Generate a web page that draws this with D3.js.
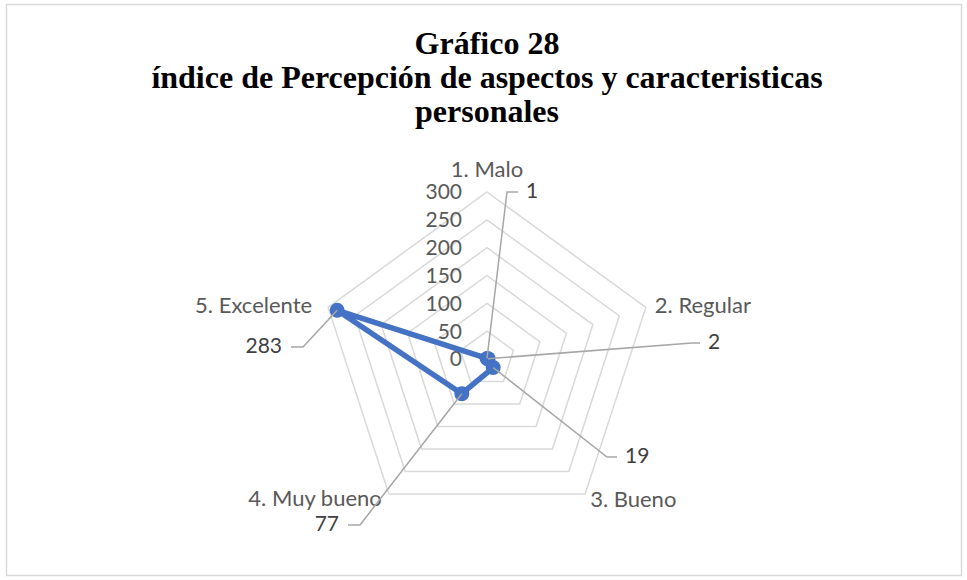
<!DOCTYPE html>
<html><head><meta charset="utf-8">
<script src="https://cdn.jsdelivr.net/npm/d3@7"></script>
<style>body{margin:0;background:#fff}svg{display:block}</style>
</head><body>
<script>
// ---- data ----
const categories = ["1. Malo", "2. Regular", "3. Bueno", "4. Muy bueno", "5. Excelente"];
const values = [1, 2, 19, 77, 283];
const tickValues = [0, 50, 100, 150, 200, 250, 300];
const titleLines = ["Gráfico 28", "índice de Percepción de aspectos y caracteristicas", "personales"];

// ---- layout ----
const W = 967, H = 580;
const cx = 487, cy = 359, R = 167;
const svg = d3.select("body").append("svg").attr("width", W).attr("height", H);
svg.append("rect").attr("x", 6.5).attr("y", 4.5).attr("width", 955).attr("height", 571)
  .attr("fill", "#fff").attr("stroke", "#d9d9d9").attr("stroke-width", 1.5);

const r = d3.scaleLinear().domain([0, 300]).range([0, R]);
const ang = d3.scaleLinear().domain([0, categories.length]).range([0, 2 * Math.PI]);
const pt = (i, v) => [cx + r(v) * Math.sin(ang(i)), cy - r(v) * Math.cos(ang(i))];

// title
svg.append("g").selectAll("text").data(titleLines).join("text")
  .attr("x", cx).attr("y", (d, i) => 54 + i * 34)
  .attr("text-anchor", "middle")
  .attr("font-family", "'Liberation Serif','Times New Roman',serif")
  .attr("font-weight", "bold").attr("font-size", 32).attr("fill", "#000")
  .text(d => d);

// grid
const grid = svg.append("g");
tickValues.filter(v => v > 0).forEach(v => {
  grid.append("path")
    .attr("d", d3.line()(categories.map((c, i) => pt(i, v))) + "Z")
    .attr("fill", "none").attr("stroke", "#d9d9d9").attr("stroke-width", 1.5);
});

// tick labels
svg.append("g").selectAll("text").data(tickValues).join("text")
  .attr("x", cx - 25).attr("y", d => cy - r(d))
  .attr("dy", "0.35em").attr("text-anchor", "end")
  .attr("font-family", "Lato, 'Open Sans', sans-serif").attr("font-size", 21)
  .attr("fill", "#595959").text(d => d);

// category labels
const catLayout = [
  {dx: 0, dy: -23, anchor: "middle"},
  {dx: 9, dy: -2, anchor: "start"},
  {dx: 5, dy: 5, anchor: "start"},
  {dx: -7, dy: 4, anchor: "end"},
  {dx: -16, dy: -2, anchor: "end"}
];
svg.append("g").selectAll("text").data(categories).join("text")
  .attr("x", (d, i) => pt(i, 300)[0] + catLayout[i].dx)
  .attr("y", (d, i) => pt(i, 300)[1] + catLayout[i].dy)
  .attr("dy", "0.35em").attr("text-anchor", (d, i) => catLayout[i].anchor)
  .attr("font-family", "Lato, 'Open Sans', sans-serif").attr("font-size", 22)
  .attr("fill", "#595959").text(d => d);

// data label leader layout (elbow offsets from center, horizontal length)
const lblLayout = [
  {ex: 20, ey: -167, h: 11},
  {ex: 205, ey: -16, h: 8},
  {ex: 120, ey: 98, h: 10},
  {ex: -127, ey: 166, h: -12},
  {ex: -184, ey: -12, h: -12}
];
const leaders = svg.append("g");
values.forEach((v, i) => {
  const p = pt(i, v);
  const L = lblLayout[i];
  const e = [cx + L.ex, cy + L.ey];
  const f = [e[0] + L.h, e[1]];
  leaders.append("path").attr("d", d3.line()([p, e, f]))
    .attr("fill", "none").attr("stroke", "#a6a6a6").attr("stroke-width", 1.5);
  leaders.append("text")
    .attr("x", f[0] + (L.h > 0 ? 8 : -9)).attr("y", f[1] - 1).attr("dy", "0.35em")
    .attr("text-anchor", L.h > 0 ? "start" : "end")
    .attr("font-family", "Lato, 'Open Sans', sans-serif").attr("font-size", 21)
    .attr("fill", "#404040").text(v);
});

// series
const pts = values.map((v, i) => pt(i, v));
svg.append("path").attr("d", d3.line()(pts) + "Z")
  .attr("fill", "none").attr("stroke", "#4472c4").attr("stroke-width", 5.5)
  .attr("stroke-linejoin", "round");
svg.append("g").selectAll("circle").data(pts).join("circle")
  .attr("cx", d => d[0]).attr("cy", d => d[1]).attr("r", 7.5)
  .attr("fill", "#4472c4");

// leaders drawn on top of markers (as in reference)
leaders.raise();
</script>
</body></html>
